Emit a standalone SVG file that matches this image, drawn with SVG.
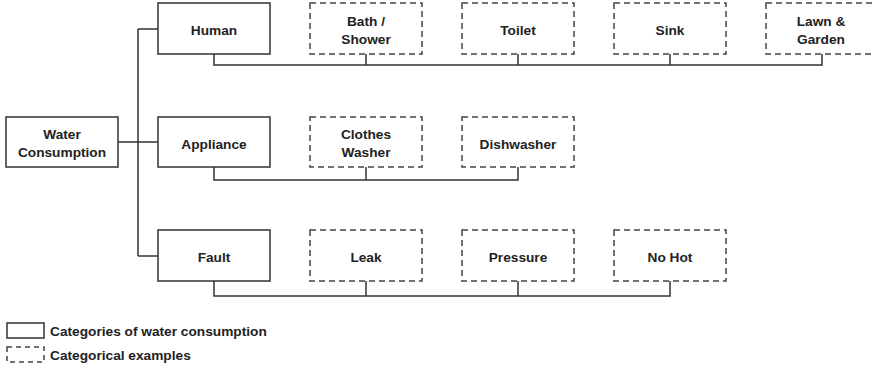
<svg xmlns="http://www.w3.org/2000/svg" width="875" height="368" viewBox="0 0 875 368">
<style>
.n rect{fill:#fff;stroke:#333;stroke-width:1.5}
.d rect{fill:#fff;stroke:#444;stroke-width:1.5;stroke-dasharray:6 4}
text{font-family:"Liberation Sans",Arial,sans-serif;font-weight:bold;font-size:13.7px;fill:#222;text-anchor:middle}
.c{fill:none;stroke:#333;stroke-width:1.5}
.lg text{text-anchor:start}
</style>
<rect width="875" height="368" fill="#fff"/>
<g id="connectors" class="c">
<path d="M118 142H158M138 29V256M138 29H158M138 256H158"/>
<path d="M214 54V65H822V54M366 54V65M518 54V65M670 54V65"/>
<path d="M214 167V180H518V167M366 167V180"/>
<path d="M214 281V296H670V281M366 281V296M518 281V296"/>
</g>
<g id="water" class="n"><rect x="6" y="117" width="112" height="50"/><text x="62" y="139">Water</text><text x="62" y="157">Consumption</text></g>
<g id="human" class="n"><rect x="158" y="3" width="112" height="51"/><text x="214" y="35">Human</text></g>
<g id="appliance" class="n"><rect x="158" y="117" width="112" height="50"/><text x="214" y="149">Appliance</text></g>
<g id="fault" class="n"><rect x="158" y="230" width="112" height="51"/><text x="214" y="262">Fault</text></g>
<g id="bath" class="d"><rect x="310" y="3" width="112" height="51"/><text x="366" y="26">Bath /</text><text x="366" y="44">Shower</text></g>
<g id="toilet" class="d"><rect x="462" y="3" width="112" height="51"/><text x="518" y="35">Toilet</text></g>
<g id="sink" class="d"><rect x="614" y="3" width="112" height="51"/><text x="670" y="35">Sink</text></g>
<g id="lawn" class="d"><rect x="766" y="3" width="112" height="51"/><text x="821" y="26">Lawn &amp;</text><text x="821" y="44">Garden</text></g>
<g id="clothes" class="d"><rect x="310" y="117" width="112" height="50"/><text x="366" y="139">Clothes</text><text x="366" y="157">Washer</text></g>
<g id="dishwasher" class="d"><rect x="462" y="117" width="112" height="50"/><text x="518" y="149">Dishwasher</text></g>
<g id="leak" class="d"><rect x="310" y="230" width="112" height="51"/><text x="366" y="262">Leak</text></g>
<g id="pressure" class="d"><rect x="462" y="230" width="112" height="51"/><text x="518" y="262">Pressure</text></g>
<g id="nohot" class="d"><rect x="614" y="230" width="112" height="51"/><text x="670" y="262">No Hot</text></g>
<g id="legend" class="lg">
<g class="n"><rect x="7" y="323" width="37" height="15"/></g>
<text x="50" y="336">Categories of water consumption</text>
<g class="d"><rect x="7" y="347" width="37" height="15" style="stroke-dasharray:5 4"/></g>
<text x="50" y="360">Categorical examples</text>
</g>
</svg>
